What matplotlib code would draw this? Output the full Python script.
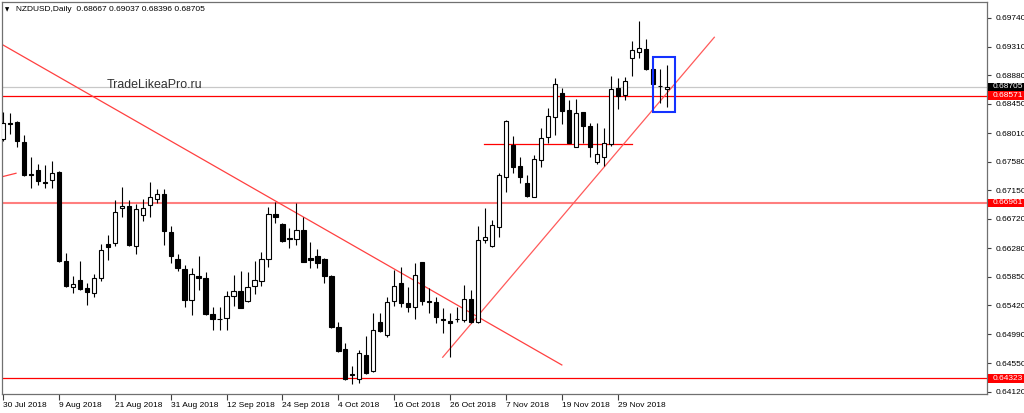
import numpy as np
import matplotlib.pyplot as plt
from matplotlib.patches import Rectangle
from matplotlib.transforms import blended_transform_factory

plt.rcParams['font.family'] = ['Liberation Sans', 'DejaVu Sans']

symbol = "NZDUSD,Daily"
watermark = "TradeLikeaPro.ru"

# one label every 8 daily bars, starting at bar 0 (30 Jul 2018)
date_labels = ["30 Jul 2018", "9 Aug 2018", "21 Aug 2018", "31 Aug 2018",
               "12 Sep 2018", "24 Sep 2018", "4 Oct 2018", "16 Oct 2018",
               "26 Oct 2018", "7 Nov 2018", "19 Nov 2018", "29 Nov 2018"]
label_step = 8

opens = [0.67922, 0.68155, 0.68177, 0.67877, 0.67388, 0.67456, 0.67276, 0.67306,
         0.67426, 0.66090, 0.65700, 0.65805, 0.65684, 0.65609, 0.65835, 0.66345,
         0.66360, 0.66885, 0.66915, 0.66315, 0.66780, 0.66930, 0.67020, 0.67095,
         0.66525, 0.66120, 0.65970, 0.65504, 0.65865, 0.65835, 0.65294, 0.65219,
         0.65234, 0.65564, 0.65639, 0.65489, 0.65715, 0.65790, 0.66120, 0.66795,
         0.66645, 0.66427, 0.66420, 0.66555, 0.66135, 0.66165, 0.66120, 0.65865,
         0.65099, 0.64769, 0.64386, 0.64318, 0.64678, 0.64438, 0.65174, 0.64979,
         0.65489, 0.65760, 0.65459, 0.65399, 0.66075, 0.65489, 0.65474, 0.65212,
         0.65189, 0.65212, 0.65204, 0.65519, 0.65174, 0.66405, 0.66315, 0.66600,
         0.67351, 0.67832, 0.67516, 0.67261, 0.67050, 0.67606, 0.67952, 0.68252,
         0.68613, 0.68358, 0.67802, 0.68328, 0.68117, 0.67576, 0.67651, 0.67847,
         0.68688, 0.68583, 0.69139, 0.69229, 0.69275, 0.68974, 0.68718, 0.68667]
highs = [0.68328, 0.68313, 0.68192, 0.67982, 0.67651, 0.67546, 0.67531, 0.67591,
         0.67441, 0.66210, 0.65865, 0.66090, 0.65760, 0.65895, 0.66345, 0.66479,
         0.67005, 0.67201, 0.67005, 0.66945, 0.67020, 0.67276, 0.67171, 0.67171,
         0.66615, 0.66195, 0.66030, 0.65985, 0.66165, 0.65925, 0.65399, 0.65399,
         0.65639, 0.65880, 0.65940, 0.65925, 0.66090, 0.66225, 0.66900, 0.66975,
         0.66660, 0.66585, 0.66960, 0.66750, 0.66375, 0.66270, 0.66135, 0.65880,
         0.65174, 0.64859, 0.64513, 0.64754, 0.64964, 0.65309, 0.65309, 0.65549,
         0.65955, 0.66000, 0.65700, 0.66060, 0.66075, 0.65684, 0.65549, 0.65384,
         0.65309, 0.65399, 0.65730, 0.65654, 0.66615, 0.66885, 0.66705, 0.67411,
         0.68207, 0.67967, 0.67651, 0.67381, 0.67681, 0.68087, 0.68388, 0.68839,
         0.68688, 0.68508, 0.68523, 0.68328, 0.68162, 0.68162, 0.68087, 0.68869,
         0.68839, 0.68854, 0.69395, 0.69695, 0.69425, 0.68989, 0.68974, 0.69037]
lows = [0.67892, 0.67997, 0.67802, 0.67366, 0.67186, 0.67231, 0.67186, 0.67186,
        0.66075, 0.65700, 0.65609, 0.65654, 0.65429, 0.65549, 0.65790, 0.66105,
        0.66315, 0.66750, 0.66315, 0.66195, 0.66690, 0.66750, 0.66960, 0.66330,
        0.66060, 0.65940, 0.65399, 0.65279, 0.65654, 0.65279, 0.65054, 0.65054,
        0.65054, 0.65414, 0.65384, 0.65474, 0.65594, 0.65715, 0.66000, 0.66660,
        0.66375, 0.66285, 0.66330, 0.66075, 0.65985, 0.65985, 0.65760, 0.65084,
        0.64723, 0.64303, 0.64243, 0.64258, 0.64393, 0.64423, 0.65024, 0.64949,
        0.65414, 0.65399, 0.65324, 0.65219, 0.65429, 0.65309, 0.65159, 0.65009,
        0.64648, 0.65174, 0.65174, 0.65159, 0.65159, 0.66360, 0.66300, 0.66450,
        0.67126, 0.67411, 0.67261, 0.67050, 0.67050, 0.67501, 0.67862, 0.67982,
        0.68147, 0.67862, 0.67802, 0.67862, 0.67651, 0.67546, 0.67516, 0.67817,
        0.68373, 0.68508, 0.68869, 0.69139, 0.68959, 0.68733, 0.68463, 0.68396]
closes = [0.68162, 0.68140, 0.67892, 0.67381, 0.67373, 0.67291, 0.67261, 0.67411,
          0.66090, 0.65715, 0.65745, 0.65669, 0.65624, 0.65835, 0.66255, 0.66300,
          0.66825, 0.66915, 0.66330, 0.66870, 0.66885, 0.67050, 0.67095, 0.66540,
          0.66165, 0.65985, 0.65504, 0.65895, 0.65835, 0.65294, 0.65219, 0.65212,
          0.65564, 0.65639, 0.65384, 0.65700, 0.65805, 0.66120, 0.66795, 0.66750,
          0.66390, 0.66420, 0.66555, 0.66075, 0.66105, 0.66060, 0.65865, 0.65099,
          0.64739, 0.64318, 0.64378, 0.64708, 0.64408, 0.65054, 0.65039, 0.65474,
          0.65715, 0.65459, 0.65399, 0.65880, 0.65489, 0.65474, 0.65249, 0.65204,
          0.65159, 0.65219, 0.65519, 0.65174, 0.66405, 0.66450, 0.66630, 0.67381,
          0.68192, 0.67501, 0.67351, 0.67065, 0.67621, 0.67937, 0.68267, 0.68748,
          0.68343, 0.67862, 0.68313, 0.68117, 0.67802, 0.67696, 0.67862, 0.68673,
          0.68568, 0.68794, 0.69260, 0.69290, 0.68974, 0.68748, 0.68711, 0.68705]

price_ticks = [0.64120, 0.64550, 0.64990, 0.65420, 0.65850, 0.66280, 0.66720,
               0.67150, 0.67580, 0.68010, 0.68450, 0.68880, 0.69310, 0.69740]

levels = [0.68571, 0.66961, 0.64323]      # horizontal lines with red price tags
bid_price = 0.68705
mid_level = [0.67842, 68.9, 90.0]          # price, from bar, to bar

# trend lines: (bar0, price0, bar1, price1)
down_trend = (-0.43, 0.69360, 79.99, 0.64525)
up_trend = (62.94, 0.64641, 101.82, 0.69450)
left_stub = (-0.43, 0.67346, 1.86, 0.67406)

# highlight box: bar0, bar1, price_low, price_high
box = (93.09, 96.19, 0.68332, 0.69150)

fig = plt.figure(figsize=(10.24, 4.13), dpi=100)
ax = fig.add_axes([2 / 1024, 18.7 / 413, 985 / 1024, 392.3 / 413])

x = np.arange(len(opens))
o = np.array(opens)
c = np.array(closes)
up = c >= o

ax.vlines(x, lows, highs, color='black', lw=0.8, zorder=3)
ax.bar(x[up], (c - o)[up], bottom=o[up], width=0.62, color='white',
       edgecolor='black', lw=0.8, zorder=4)
ax.bar(x[~up], (c - o)[~up], bottom=o[~up], width=0.62, color='black',
       edgecolor='black', lw=0.8, zorder=4)

# lines
ax.axhline(bid_price, color='#c8c8c8', lw=0.9, zorder=1)
ax.axhline(levels[0], color='#ff0000', lw=0.9, zorder=2)
ax.axhline(levels[1], color='#ff7f7f', lw=1.5, zorder=2)
ax.axhline(levels[2], color='#ff0000', lw=0.9, zorder=2)
ax.plot([mid_level[1], mid_level[2]], [mid_level[0], mid_level[0]], color='#ff0000', lw=0.9, zorder=2)
for t, col in [(down_trend, '#ff4040'), (up_trend, '#ff5a5a'), (left_stub, '#ff4040')]:
    ax.plot([t[0], t[2]], [t[1], t[3]], color=col, lw=0.9, zorder=2)

ax.add_patch(Rectangle((box[0], box[2]), box[1] - box[0], box[3] - box[2],
                       fill=False, ec='#1432ff', lw=1.5, zorder=6))

ax.set_xlim(-0.143, 140.85)
ax.set_ylim(0.64084, 0.69980)

# axes
ax.set_xticks(np.arange(len(date_labels)) * label_step)
ax.set_xticklabels(date_labels, ha='left', fontsize=6)
ax.yaxis.tick_right()
ax.set_yticks(price_ticks)
ax.set_yticklabels([f'{v:.5f}' for v in price_ticks], fontsize=6)
ax.tick_params(axis='x', direction='out', length=4, pad=1.5, color='#404040')
ax.tick_params(axis='y', direction='out', length=3, pad=3, color='#404040')
for s in ax.spines.values():
    s.set_color('#707070')
    s.set_linewidth(0.9)

# price tags on the right scale
tr = blended_transform_factory(ax.transAxes, ax.transData)
tag_h = 0.0013
for v, col in [(levels[0], '#ff0000'), (levels[1], '#ff0000'), (levels[2], '#ff0000'), (bid_price, '#000000')]:
    ax.add_patch(Rectangle((1.001, v - tag_h / 2), 0.04, tag_h, transform=tr,
                           fc=col, ec='none', clip_on=False, zorder=9))
    ax.text(1.0055, v, f'{v:.5f}', transform=tr, ha='left', va='center', fontsize=6,
            color='white', clip_on=False, zorder=10)

# header and watermark
fig.text(5 / 1024, 1 - 9.5 / 413, '\u25bc', fontsize=4, va='center', family=['DejaVu Sans'])
fig.text(16 / 1024, 1 - 9.5 / 413, f'{symbol}  {opens[-1]:.5f} {highs[-1]:.5f} {lows[-1]:.5f} {closes[-1]:.5f}',
         fontsize=6, va='center', color='black')
fig.text(107 / 1024, 1 - 85 / 413, watermark, fontsize=8.9, va='center', color='#333333')

fig.savefig('out.png', dpi=100)
